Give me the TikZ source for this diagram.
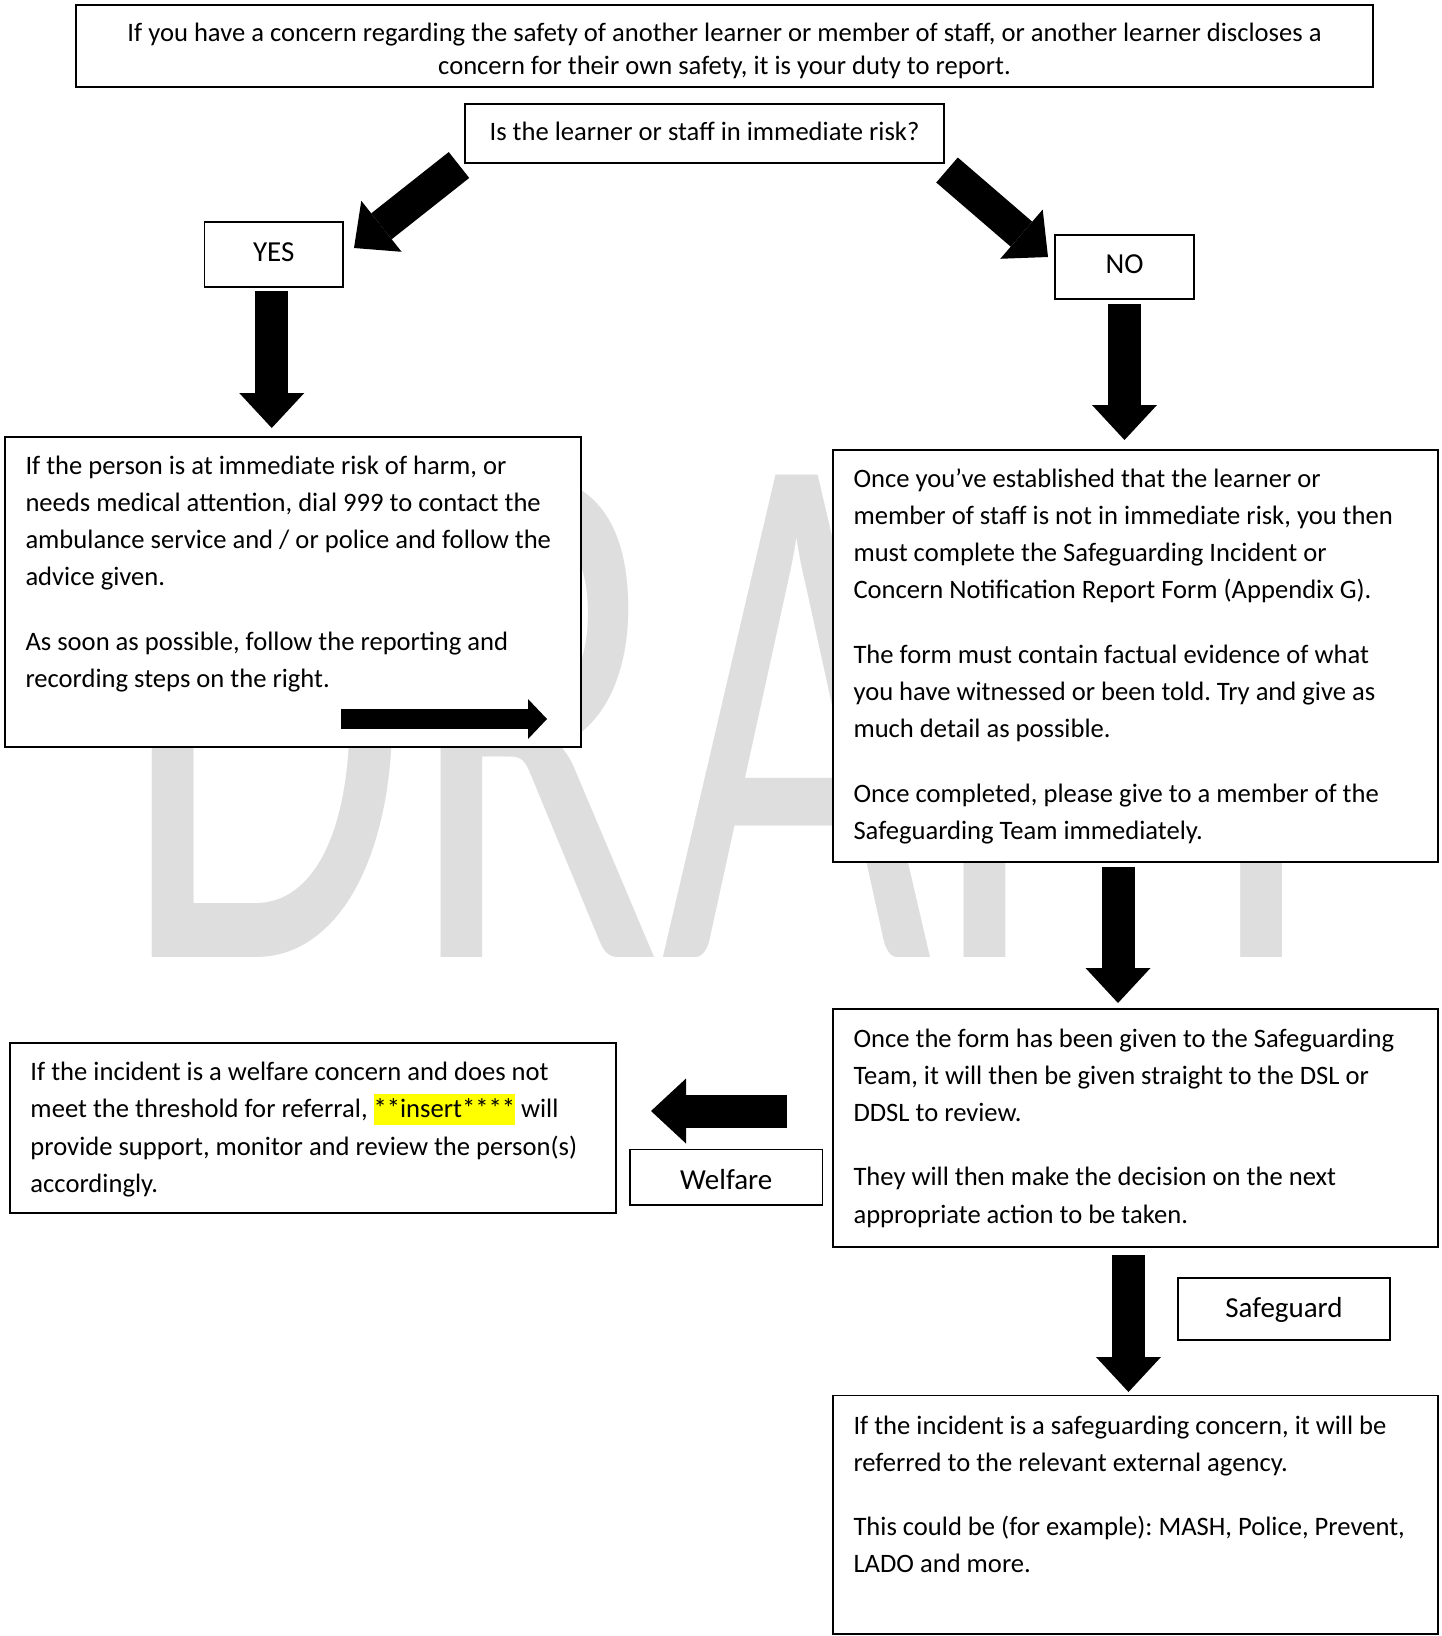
\documentclass[tikz,border=0pt]{standalone}
\usepackage{fontspec}
\setmainfont{Carlito}
\usepackage{xcolor}
\usepackage{graphicx}
\usepackage{tikz}
\usetikzlibrary{arrows.meta,calc}

\definecolor{draftgrey}{RGB}{222,222,222}
\definecolor{hilite}{RGB}{255,255,0}
\newcommand{\hilight}[1]{{\setlength{\fboxsep}{0pt}\colorbox{hilite}{\rule[-7pt]{0pt}{31pt}#1}}}
\frenchspacing

\begin{document}
\begin{tikzpicture}[
  x=1pt, y=-1pt,
  bodyfont/.style={font={\fontsize{26.6}{37.3}\selectfont}},
  labelfont/.style={font={\fontsize{29}{35}\selectfont}},
  box/.style={draw, line width=1.8pt, fill=white, outer sep=0pt, inner ysep=0pt},
  panel/.style={box, bodyfont, align=flush left, inner xsep=20.5pt},
  tag/.style={box, labelfont, inner xsep=0pt},
  watermark/.style={font={\fontsize{752}{752}\selectfont}, text=draftgrey, inner sep=0pt},
  blockarrow/.style={line width=33pt, -{Triangle[length=35pt, width=65pt, line width=0pt]}},
  smallarrow/.style={line width=20pt, -{Triangle[length=19pt, width=40pt, line width=0pt]}}
]
\useasboundingbox (0,0) rectangle (1441,1636);

% watermark
\node[watermark, anchor=base west] (wm) at (120,957) {\scalebox{0.622}[1]{DRAFT}};

\node[box, align=flush center, font={\fontsize{26.6}{32.8}\selectfont}, text width=1256pt, inner xsep=20.5pt,
      text height=36.5pt, text depth=45.5pt, anchor=base] (intro) at (724.5,41.5)
  {If you have a concern regarding the safety of another learner or member of staff, or another learner discloses a\\
   concern for their own safety, it is your duty to report.};

\node[box, bodyfont, minimum width=479pt, inner xsep=0pt, text height=36.3pt, text depth=22.7pt, anchor=base] (q)
  at (704.5,140.3) {Is the learner or staff in immediate risk?};

\node[tag, minimum width=138.5pt, text height=39.7pt, text depth=25.3pt, anchor=base] (yes) at (273.75,261.7) {YES};
\node[tag, minimum width=139pt, text height=38.5pt, text depth=25.5pt, anchor=base] (no) at (1124.5,273.5) {NO};

\node[panel, text width=535pt, text height=37pt, text depth=273pt, anchor=base west] (l1) at (5,474)
  {If the person is at immediate risk of harm, or\\
   needs medical attention, dial 999 to contact the\\
   ambulance service and / or police and follow the\\
   advice given.\\[27pt]
   As soon as possible, follow the reporting and\\
   recording steps on the right.};

\node[panel, text width=564pt, text height=37pt, text depth=375pt, anchor=base west] (r1) at (833,487)
  {Once you’ve established that the learner or\\
   member of staff is not in immediate risk, you then\\
   must complete the Safeguarding Incident or\\
   Concern Notification Report Form (Appendix G).\\[27pt]
   The form must contain factual evidence of what\\
   you have witnessed or been told. Try and give as\\
   much detail as possible.\\[27pt]
   Once completed, please give to a member of the\\
   Safeguarding Team immediately.};

\node[panel, text width=564pt, text height=38pt, text depth=200pt, anchor=base west] (r2) at (833,1047)
  {Once the form has been given to the Safeguarding\\
   Team, it will then be given straight to the DSL or\\
   DDSL to review.\\[27pt]
   They will then make the decision on the next\\
   appropriate action to be taken.};

\node[panel, text width=565pt, text height=37.5pt, text depth=132.5pt, anchor=base west] (wtext) at (10,1080.5)
  {If the incident is a welfare concern and does not\\
   meet the threshold for referral, \hilight{**insert****} will\\
   provide support, monitor and review the person(s)\\
   accordingly.};

\node[tag, minimum width=192.5pt, text height=39.8pt, text depth=16pt, anchor=base] (wlab) at (726.25,1189.3) {Welfare};
\node[tag, minimum width=212pt, text height=38.7pt, text depth=22.8pt, anchor=base] (sglab) at (1284,1317) {Safeguard};

\node[panel, text width=564pt, text height=38.5pt, text depth=200pt, anchor=base west] (sg) at (833,1434)
  {If the incident is a safeguarding concern, it will be\\
   referred to the relevant external agency.\\[27pt]
   This could be (for example): MASH, Police, Prevent,\\
   LADO and more.};

% block arrows
\draw[blockarrow] ($(q.south west)+(-6,2)$) -- ($(yes.north east)+(11,26)$);
\draw[blockarrow] ($(q.south east)+(3,7)$) -- ($(no.north west)+(-7,22)$);
\draw[blockarrow] ($(yes.south)+(-2,4)$) -- ($(yes.south)+(-2,141)$);
\draw[blockarrow] ($(no.south)+(0,5)$) -- ($(no.south)+(0,141)$);
\draw[blockarrow] ($(r1.south)+(-17.5,5)$) -- ($(r1.south)+(-17.5,141)$);
\draw[blockarrow] ($(r2.south)+(-7,8)$) -- ($(r2.south)+(-7,145)$);
\draw[blockarrow] ($(wtext.east)+(171,-17)$) -- ($(wtext.east)+(35,-17)$);
\draw[smallarrow] ($(l1.south east)+(-240,-28)$) -- ($(l1.south east)+(-34,-28)$);
\end{tikzpicture}
\end{document}
